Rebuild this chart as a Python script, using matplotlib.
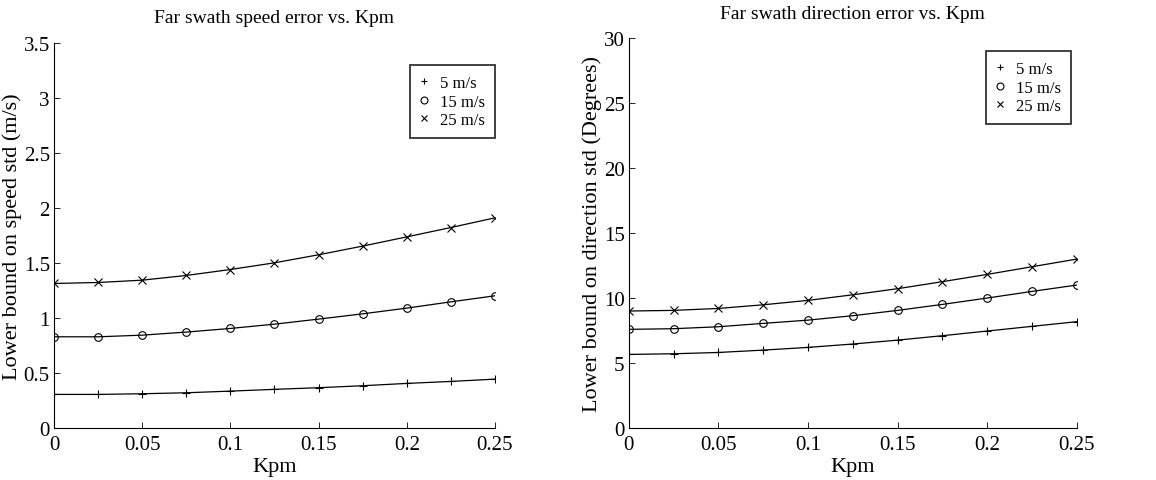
import matplotlib
matplotlib.use("Agg")
import matplotlib.pyplot as plt
import numpy as np

plt.rcParams['font.family'] = ['Liberation Serif', 'DejaVu Serif']
plt.rcParams['xtick.direction'] = 'in'
plt.rcParams['ytick.direction'] = 'in'

# Kpm values
kpm = [0, 0.025, 0.05, 0.075, 0.1, 0.125, 0.15, 0.175, 0.2, 0.225, 0.25]
labels = ['5 m/s', '15 m/s', '25 m/s']

# speed error (m/s)
speed_5 = [0.306, 0.306, 0.312, 0.321, 0.336, 0.352, 0.367, 0.385, 0.406, 0.424, 0.445]
speed_15 = [0.830, 0.830, 0.845, 0.873, 0.906, 0.945, 0.991, 1.039, 1.091, 1.148, 1.203]
speed_25 = [1.315, 1.324, 1.345, 1.388, 1.442, 1.503, 1.576, 1.655, 1.739, 1.824, 1.912]

# direction error (degrees)
dir_5 = [5.67, 5.72, 5.82, 6.00, 6.21, 6.47, 6.77, 7.11, 7.47, 7.83, 8.19]
dir_15 = [7.60, 7.65, 7.80, 8.06, 8.31, 8.65, 9.06, 9.52, 10.01, 10.52, 11.01]
dir_25 = [9.01, 9.06, 9.21, 9.49, 9.83, 10.26, 10.73, 11.27, 11.83, 12.42, 13.01]

markers = ['+', 'o', 'x']

fig = plt.figure(figsize=(11.56, 4.81), dpi=100)
ax1 = fig.add_axes([0.0467, 0.108, 0.3815, 0.800])
ax2 = fig.add_axes([0.5439, 0.108, 0.3875, 0.810])


def draw(ax, series, ymax, yticks, ylabel, title, leg_anchor, ylpad):
    for s, m in zip(series, markers):
        ax.plot(kpm, s, color='black', linewidth=0.9)
        ax.plot(kpm, s, linestyle='none', marker=m, color='black',
                markersize=5.5, markerfacecolor='none', markeredgewidth=0.8)
    handles = [plt.Line2D([], [], linestyle='none', marker=m, color='black',
                          markersize=5, markerfacecolor='none', markeredgewidth=0.8)
               for m in markers]
    leg = ax.legend(handles, labels, loc='upper left', bbox_to_anchor=leg_anchor,
                    fontsize=12, frameon=True, fancybox=False, handlelength=0.5,
                    handletextpad=0.7, borderpad=0.6, labelspacing=0.15,
                    borderaxespad=0)
    leg.get_frame().set_edgecolor('black')
    leg.get_frame().set_linewidth(1.3)
    ax.set_xlim(0, 0.25)
    ax.set_ylim(0, ymax)
    ax.set_xticks(kpm[::2])
    ax.set_xticklabels(['0', '0.05', '0.1', '0.15', '0.2', '0.25'])
    ax.set_yticks(yticks)
    ax.set_yticklabels(['%g' % t for t in yticks])
    ax.tick_params(labelsize=15, length=4, width=0.6)
    ax.tick_params(axis='x', pad=5)
    ax.tick_params(axis='y', pad=3)
    ax.spines['top'].set_visible(False)
    ax.spines['right'].set_visible(False)
    ax.set_xlabel('Kpm', fontsize=16, labelpad=2)
    ax.set_ylabel(ylabel, fontsize=16, labelpad=ylpad)
    ax.set_title(title, fontsize=14, pad=15)


draw(ax1, [speed_5, speed_15, speed_25], 3.5, [0, 0.5, 1, 1.5, 2, 2.5, 3, 3.5],
     'Lower bound on speed std (m/s)', 'Far swath speed error vs. Kpm',
     (0.807, 0.943), 1)
draw(ax2, [dir_5, dir_15, dir_25], 30, [0, 5, 10, 15, 20, 25, 30],
     'Lower bound on direction std (Degrees)', 'Far swath direction error vs. Kpm',
     (0.798, 0.967), 1)

fig.savefig('out.png', dpi=100)
